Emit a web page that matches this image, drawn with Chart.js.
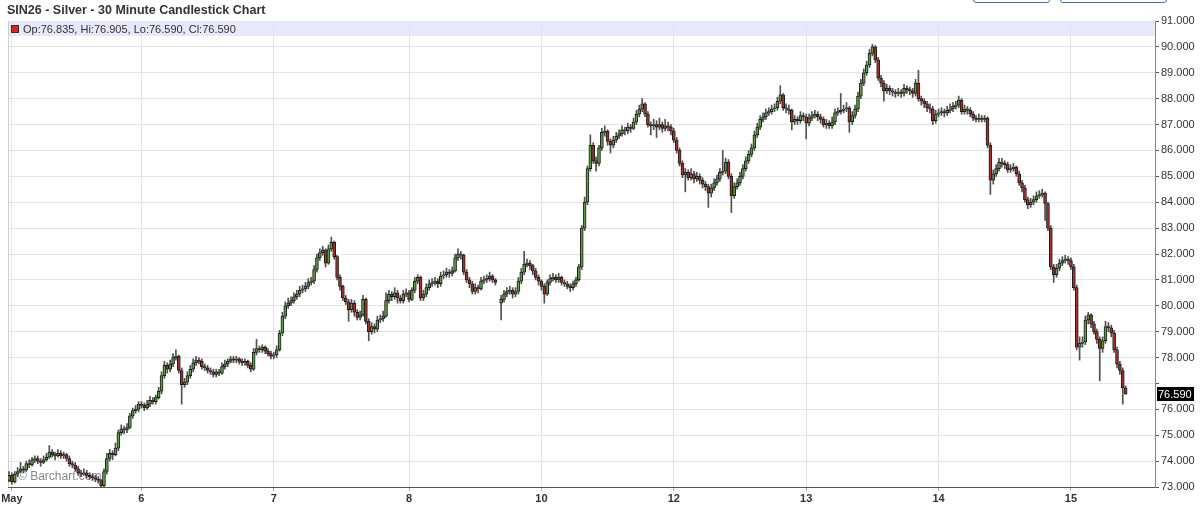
<!DOCTYPE html>
<html>
<head>
<meta charset="utf-8">
<title>SIN26 - Silver - 30 Minute Candlestick Chart</title>
<script src="https://cdn.jsdelivr.net/npm/chart.js@4.4.1/dist/chart.umd.min.js"></script>
<style>
  body { margin: 0; background: #fff; }
  #wrap { position: relative; width: 1200px; height: 513px; overflow: hidden; }
  .btn { position: absolute; top: -20px; height: 23px; border: 1px solid #4d6d94; border-radius: 3px; box-sizing: border-box; }
</style>
</head>
<body>
<div id="wrap">
  <canvas id="myChart" width="1200" height="513"></canvas>
  <div class="btn" style="left:973px;width:77px"></div>
  <div class="btn" style="left:1060px;width:107px"></div>
</div>
<script>
const chartTitle = 'SIN26 - Silver - 30 Minute Candlestick Chart';

// x axis: day labels and the bar index where each one sits
const dayLabels = ['May', '6', '7', '8', '10', '12', '13', '14', '15'];
const dayTicks = [1, 46, 92, 139, 185, 231, 277, 323, 369];

const priceMin = 73;
const priceMax = 91;

// 30 minute bars, one entry per bar (null = no bar)
const opens = [
  // May 5
  73.25, 73.45, 73.2, 73.5, 73.6, 73.7, 73.65, 73.9, 73.85, 74.05, 74.1, 74.0, 73.95, 74.05, 74.15, 74.35, 74.25, 74.2, 74.3, 74.2, 74.25, 74.1, 73.9, 73.85, 73.7, 73.55, 73.5, 73.55, 73.45, 73.4, 73.35, 73.3, 73.25, 73.05, 73.6, 74.1, 74.3, 74.25, 74.5, 75.1, 75.25, 75.2, 75.3, 75.75, 75.95, 76.0, 76.2,
  // 6
  76.15, 76.05, 76.2, 76.35, 76.3, 76.45, 76.7, 77.3, 77.7, 77.55, 77.75, 78.0, 78.05, 77.5, 76.95, 77.05, 77.3, 77.55, 77.8, 77.9, 77.85, 77.65, 77.6, 77.5, 77.45, 77.35, 77.45, 77.4, 77.65, 77.75, 77.85, 77.95, 77.9, 77.95, 77.85, 77.8, 77.85, 77.7, 77.55, 78.2, 78.35, 78.3, 78.4, 78.25, 78.15, 78.05,
  // 7
  78.1, 78.3, 78.95, 79.6, 80.0, 80.1, 80.2, 80.35, 80.45, 80.6, 80.65, 80.75, 80.9, 80.95, 81.4, 81.85, 82.05, 82.15, 81.65, 82.2, 82.45, 81.9, 81.1, 80.75, 80.3, 80.15, 79.85, 80.1, 79.75, 79.55, 79.65, 80.25, 79.4, 79.0, 79.2, 79.1, 79.45, 79.5, 79.6, 80.2, 80.45, 80.35, 80.5, 80.3, 80.2, 80.45,
  // 8
  80.5, 80.25, 80.6, 80.95, 81.1, 80.3, 80.45, 80.7, 80.85, 80.9, 80.95, 80.85, 81.15, 81.2, 81.3, 81.25, 81.35, 81.85, 82.0, 81.95, 81.3, 81.0, 80.85, 80.55, 80.7, 80.65, 80.95, 81.0, 81.05, 81.15, 81.0, null, 80.1, 80.25, 80.45, 80.55, 80.6, 80.45, 80.55, 80.95, 81.3, 81.6, 81.65, 81.55, 81.35, 81.1,
  // 10
  80.95, 80.75, 80.45, 80.9, 81.05, 81.1, 81.0, 81.1, 80.9, 80.85, 80.75, 80.7, 80.85, 81.0, 81.5, 83.0, 84.0, 85.3, 86.2, 85.6, 85.5, 86.1, 86.7, 86.75, 86.35, 86.2, 86.4, 86.55, 86.65, 86.8, 86.75, 86.9, 86.85, 87.1, 87.4, 87.6, 87.8, 87.4, 87.0, 86.95, 87.0, 86.9, 87.0, 86.85, 86.95, 86.9,
  // 12
  86.75, 86.4, 86.0, 85.5, 85.05, 85.15, 84.95, 85.1, 84.9, 85.0, 84.85, 84.7, 84.6, 84.35, 84.55, 84.75, 84.9, 85.15, 85.2, 85.55, 85.0, 84.25, 84.6, 84.75, 85.0, 85.3, 85.6, 85.85, 86.1, 86.6, 86.9, 87.2, 87.3, 87.45, 87.5, 87.6, 87.65, 87.9, 88.15, 87.65, 87.6, 87.55, 87.1, 87.2, 87.15, 87.35,
  // 13
  87.3, 87.05, 87.25, 87.35, 87.4, 87.3, 87.2, 87.0, 87.05, 86.95, 87.1, 87.45, 87.5, 87.55, 87.6, 87.65, 87.1, 87.35, 87.6, 88.1, 88.6, 89.0, 89.3, 89.75, 90.0, 89.5, 88.8, 88.6, 88.3, 88.4, 88.3, 88.25, 88.2, 88.25, 88.2, 88.4, 88.35, 88.3, 88.2, 88.6, 88.0, 87.9, 87.8, 87.65, 87.6, 87.15,
  // 14
  87.4, 87.45, 87.5, 87.45, 87.55, 87.6, 87.7, 87.75, 87.95, 87.5, 87.6, 87.55, 87.4, 87.25, 87.2, 87.25, 87.2, 87.25, 86.2, 84.85, 85.1, 85.3, 85.55, 85.5, 85.45, 85.25, 85.3, 85.35, 85.1, 84.75, 84.55, 84.1, 83.9, 84.0, 84.1, 84.25, 84.3, 84.35, 83.95, 83.0, 81.5, 81.2, 81.45, 81.65, 81.75, 81.8,
  // 15
  81.75, 81.5, 80.7, 78.4, 78.55, 78.6, 79.45, 79.65, 79.3, 79.0, 78.7, 78.35, 78.65, 79.2, 79.15, 78.95, 78.3, 77.75, 77.5, 76.835
];

const highs = [
  73.6, 73.55, 73.6, 73.75, 73.95, 73.8, 74.0, 74.05, 74.15, 74.2, 74.2, 74.1, 74.2, 74.3, 74.6, 74.45, 74.35, 74.45, 74.4, 74.35, 74.3, 74.2, 74.0, 73.95, 73.8, 73.65, 73.7, 73.65, 73.55, 73.5, 73.45, 73.4, 73.3, 73.7, 74.3, 74.45, 74.4, 74.7, 75.2, 75.4, 75.35, 75.45, 75.85, 76.05, 76.15, 76.3, 76.3,
  76.25, 76.35, 76.5, 76.45, 76.55, 76.85, 77.45, 77.85, 77.8, 77.9, 78.15, 78.3, 78.1, 77.6, 77.2, 77.45, 77.7, 77.95, 78.05, 78.0, 77.95, 77.75, 77.7, 77.6, 77.55, 77.55, 77.55, 77.8, 77.9, 77.95, 78.05, 78.05, 78.05, 78.0, 77.95, 77.95, 77.9, 77.8, 78.35, 78.7, 78.45, 78.5, 78.45, 78.35, 78.25, 78.2,
  78.45, 79.05, 79.75, 80.15, 80.3, 80.35, 80.5, 80.6, 80.75, 80.8, 80.9, 81.05, 81.1, 81.55, 82.0, 82.2, 82.3, 82.2, 82.35, 82.65, 82.5, 81.95, 81.2, 80.8, 80.4, 80.25, 80.25, 80.2, 79.85, 79.8, 80.4, 80.3, 79.5, 79.35, 79.3, 79.6, 79.65, 79.8, 80.5, 80.6, 80.55, 80.7, 80.6, 80.4, 80.6, 80.65,
  80.6, 80.7, 81.1, 81.2, 81.15, 80.6, 80.85, 81.0, 81.05, 81.1, 81.05, 81.3, 81.35, 81.45, 81.4, 81.5, 82.0, 82.2, 82.1, 82.0, 81.4, 81.1, 80.95, 80.85, 80.8, 81.1, 81.15, 81.2, 81.3, 81.2, 81.05, null, 80.4, 80.6, 80.7, 80.75, 80.7, 80.7, 81.1, 81.45, 82.1, 81.8, 81.75, 81.6, 81.45, 81.2,
  81.0, 80.85, 81.0, 81.2, 81.25, 81.2, 81.25, 81.15, 81.0, 80.95, 80.85, 80.95, 81.1, 81.6, 83.1, 84.2, 85.4, 86.6, 86.3, 85.75, 86.2, 86.85, 86.95, 86.8, 86.45, 86.55, 86.7, 86.8, 86.95, 86.9, 87.05, 87.0, 87.25, 87.55, 87.75, 88.0, 87.85, 87.5, 87.1, 87.2, 87.15, 87.25, 87.1, 87.2, 87.1, 87.0,
  86.85, 86.5, 86.1, 85.6, 85.3, 85.25, 85.3, 85.2, 85.15, 85.1, 84.95, 84.8, 84.7, 84.7, 84.9, 85.05, 85.3, 86.0, 85.7, 85.65, 85.1, 84.75, 84.9, 85.15, 85.45, 85.75, 86.0, 86.25, 86.75, 87.05, 87.35, 87.45, 87.6, 87.65, 87.75, 87.8, 88.05, 88.5, 88.2, 87.8, 87.75, 87.6, 87.35, 87.3, 87.5, 87.45,
  87.4, 87.4, 87.5, 87.55, 87.5, 87.4, 87.3, 87.2, 87.15, 87.3, 87.6, 87.65, 88.2, 87.75, 87.85, 87.7, 87.5, 87.75, 88.25, 88.75, 89.15, 89.45, 89.9, 90.1, 90.05, 89.6, 88.9, 88.7, 88.55, 88.5, 88.4, 88.35, 88.4, 88.35, 88.55, 88.5, 88.45, 88.4, 88.75, 89.1, 88.1, 88.0, 87.9, 87.8, 87.7, 87.55,
  87.6, 87.65, 87.6, 87.7, 87.8, 87.85, 87.9, 88.1, 88.0, 87.75, 87.7, 87.65, 87.5, 87.35, 87.4, 87.35, 87.35, 87.3, 86.3, 85.25, 85.45, 85.7, 85.7, 85.6, 85.55, 85.45, 85.5, 85.4, 85.2, 84.85, 84.65, 84.2, 84.15, 84.25, 84.4, 84.45, 84.5, 84.4, 84.0, 83.1, 81.6, 81.6, 81.8, 81.9, 81.95, 81.9,
  81.85, 81.6, 80.8, 78.8, 78.8, 79.6, 79.75, 79.7, 79.4, 79.1, 78.8, 78.8, 79.4, 79.35, 79.25, 79.05, 78.4, 77.85, 77.6, 76.905
];

const lows = [
  73.2, 73.1, 73.15, 73.4, 73.55, 73.55, 73.6, 73.75, 73.8, 73.95, 73.9, 73.8, 73.9, 74.0, 74.1, 74.15, 74.05, 74.15, 74.1, 74.1, 74.0, 73.8, 73.75, 73.6, 73.45, 73.4, 73.45, 73.35, 73.3, 73.25, 73.2, 73.15, 73.0, 73.0, 73.5, 74.0, 74.05, 74.2, 74.4, 75.0, 75.05, 75.1, 75.25, 75.65, 75.85, 75.9, 76.05,
  75.95, 76.0, 76.1, 76.2, 76.2, 76.4, 76.6, 77.2, 77.4, 77.45, 77.65, 77.9, 77.4, 76.2, 76.85, 76.95, 77.2, 77.45, 77.7, 77.75, 77.55, 77.5, 77.4, 77.35, 77.25, 77.25, 77.3, 77.35, 77.55, 77.65, 77.8, 77.8, 77.8, 77.75, 77.7, 77.7, 77.6, 77.45, 77.5, 78.1, 78.2, 78.2, 78.15, 78.05, 77.95, 77.95,
  78.0, 78.25, 78.85, 79.5, 79.9, 80.0, 80.1, 80.25, 80.35, 80.5, 80.55, 80.65, 80.8, 80.85, 81.3, 81.75, 81.95, 81.5, 81.6, 82.1, 81.8, 81.0, 80.6, 80.2, 80.05, 79.4, 79.75, 79.6, 79.45, 79.45, 79.6, 79.3, 78.65, 78.9, 78.95, 79.0, 79.35, 79.4, 79.55, 80.1, 80.2, 80.25, 80.1, 80.1, 80.1, 80.35,
  80.15, 80.2, 80.5, 80.85, 80.2, 80.2, 80.35, 80.6, 80.75, 80.8, 80.7, 80.75, 81.05, 81.1, 81.1, 81.15, 81.3, 81.75, 81.8, 81.2, 80.9, 80.7, 80.45, 80.45, 80.5, 80.6, 80.85, 80.9, 80.95, 80.9, 80.8, null, 79.45, 80.15, 80.35, 80.45, 80.3, 80.35, 80.45, 80.85, 81.2, 81.5, 81.4, 81.2, 81.0, 80.8,
  80.6, 80.1, 80.4, 80.8, 80.95, 80.9, 80.9, 80.8, 80.75, 80.65, 80.55, 80.6, 80.75, 80.95, 81.4, 82.9, 83.9, 85.2, 85.5, 85.2, 85.4, 86.0, 86.55, 86.2, 85.9, 86.1, 86.3, 86.45, 86.55, 86.6, 86.65, 86.7, 86.8, 87.0, 87.3, 87.5, 87.3, 86.9, 86.6, 86.8, 86.5, 86.8, 86.7, 86.75, 86.75, 86.6,
  86.3, 85.9, 85.4, 84.95, 84.4, 84.85, 84.85, 84.75, 84.8, 84.7, 84.55, 84.45, 83.8, 84.2, 84.45, 84.65, 84.8, 85.05, 85.1, 84.9, 83.6, 84.15, 84.5, 84.65, 84.9, 85.2, 85.5, 85.75, 86.0, 86.5, 86.8, 87.1, 87.2, 87.35, 87.4, 87.5, 87.55, 87.8, 87.55, 87.45, 87.4, 86.8, 87.0, 87.0, 87.05, 87.15,
  86.45, 86.95, 87.15, 87.25, 87.15, 87.05, 86.9, 86.85, 86.85, 86.85, 87.0, 87.35, 87.4, 87.45, 87.5, 86.7, 87.0, 87.25, 87.5, 88.0, 88.5, 88.9, 89.2, 89.65, 89.4, 88.7, 88.45, 87.9, 88.2, 88.15, 88.1, 88.05, 88.1, 88.05, 88.1, 88.2, 88.15, 88.05, 88.1, 87.9, 87.75, 87.65, 87.5, 87.45, 87.0, 87.05,
  87.3, 87.35, 87.3, 87.35, 87.45, 87.5, 87.6, 87.65, 87.4, 87.4, 87.4, 87.3, 87.15, 87.1, 87.1, 87.1, 87.1, 86.1, 84.3, 84.7, 85.0, 85.2, 85.35, 85.3, 85.15, 85.15, 85.2, 85.0, 84.65, 84.4, 84.0, 83.75, 83.8, 83.9, 84.0, 84.15, 84.2, 83.3, 82.9, 81.4, 80.9, 81.1, 81.35, 81.55, 81.65, 81.6,
  81.4, 80.6, 78.3, 77.9, 78.4, 78.5, 79.3, 79.15, 78.9, 78.55, 77.1, 78.2, 78.55, 79.0, 78.8, 78.2, 77.6, 77.35, 76.2, 76.59
];

const closes = [
  73.45, 73.2, 73.5, 73.6, 73.7, 73.65, 73.9, 73.85, 74.05, 74.1, 74.0, 73.95, 74.05, 74.15, 74.35, 74.25, 74.2, 74.3, 74.2, 74.25, 74.1, 73.9, 73.85, 73.7, 73.55, 73.5, 73.55, 73.45, 73.4, 73.35, 73.3, 73.25, 73.05, 73.6, 74.1, 74.3, 74.25, 74.5, 75.1, 75.25, 75.2, 75.3, 75.75, 75.95, 76.0, 76.2, 76.15,
  76.05, 76.2, 76.35, 76.3, 76.45, 76.7, 77.3, 77.7, 77.55, 77.75, 78.0, 78.05, 77.5, 76.95, 77.05, 77.3, 77.55, 77.8, 77.9, 77.85, 77.65, 77.6, 77.5, 77.45, 77.35, 77.45, 77.4, 77.65, 77.75, 77.85, 77.95, 77.9, 77.95, 77.85, 77.8, 77.85, 77.7, 77.55, 78.2, 78.35, 78.3, 78.4, 78.25, 78.15, 78.05, 78.1,
  78.3, 78.95, 79.6, 80.0, 80.1, 80.2, 80.35, 80.45, 80.6, 80.65, 80.75, 80.9, 80.95, 81.4, 81.85, 82.05, 82.15, 81.65, 82.2, 82.45, 81.9, 81.1, 80.75, 80.3, 80.15, 79.85, 80.1, 79.75, 79.55, 79.65, 80.25, 79.4, 79.0, 79.2, 79.1, 79.45, 79.5, 79.6, 80.2, 80.45, 80.35, 80.5, 80.3, 80.2, 80.45, 80.5,
  80.25, 80.6, 80.95, 81.1, 80.3, 80.45, 80.7, 80.85, 80.9, 80.95, 80.85, 81.15, 81.2, 81.3, 81.25, 81.35, 81.85, 82.0, 81.95, 81.3, 81.0, 80.85, 80.55, 80.7, 80.65, 80.95, 81.0, 81.05, 81.15, 81.0, 80.9, null, 80.25, 80.45, 80.55, 80.6, 80.45, 80.55, 80.95, 81.3, 81.6, 81.65, 81.55, 81.35, 81.1, 80.95,
  80.75, 80.45, 80.9, 81.05, 81.1, 81.0, 81.1, 80.9, 80.85, 80.75, 80.7, 80.85, 81.0, 81.5, 83.0, 84.0, 85.3, 86.2, 85.6, 85.5, 86.1, 86.7, 86.75, 86.35, 86.2, 86.4, 86.55, 86.65, 86.8, 86.75, 86.9, 86.85, 87.1, 87.4, 87.6, 87.8, 87.4, 87.0, 86.95, 87.0, 86.9, 87.0, 86.85, 86.95, 86.9, 86.75,
  86.4, 86.0, 85.5, 85.05, 85.15, 84.95, 85.1, 84.9, 85.0, 84.85, 84.7, 84.6, 84.35, 84.55, 84.75, 84.9, 85.15, 85.2, 85.55, 85.0, 84.25, 84.6, 84.75, 85.0, 85.3, 85.6, 85.85, 86.1, 86.6, 86.9, 87.2, 87.3, 87.45, 87.5, 87.6, 87.65, 87.9, 88.15, 87.65, 87.6, 87.55, 87.1, 87.2, 87.15, 87.35, 87.3,
  87.05, 87.25, 87.35, 87.4, 87.3, 87.2, 87.0, 87.05, 86.95, 87.1, 87.45, 87.5, 87.55, 87.6, 87.65, 87.1, 87.35, 87.6, 88.1, 88.6, 89.0, 89.3, 89.75, 90.0, 89.5, 88.8, 88.6, 88.3, 88.4, 88.3, 88.25, 88.2, 88.25, 88.2, 88.4, 88.35, 88.3, 88.2, 88.6, 88.0, 87.9, 87.8, 87.65, 87.6, 87.15, 87.4,
  87.45, 87.5, 87.45, 87.55, 87.6, 87.7, 87.75, 87.95, 87.5, 87.6, 87.55, 87.4, 87.25, 87.2, 87.25, 87.2, 87.25, 86.2, 84.85, 85.1, 85.3, 85.55, 85.5, 85.45, 85.25, 85.3, 85.35, 85.1, 84.75, 84.55, 84.1, 83.9, 84.0, 84.1, 84.25, 84.3, 84.35, 83.95, 83.0, 81.5, 81.2, 81.45, 81.65, 81.75, 81.8, 81.75,
  81.5, 80.7, 78.4, 78.55, 78.6, 79.45, 79.65, 79.3, 79.0, 78.7, 78.35, 78.65, 79.2, 79.15, 78.95, 78.3, 77.75, 77.5, 76.835, 76.59
];

const upColor = '#58a03c';
const downColor = '#a8302a';
const fontFamily = '"Liberation Sans", Arial, sans-serif';

let myChart;

const last = closes.length - 1;
const lastClose = closes[last];

// candle bodies and wicks as floating bars
const bodies = [];
const wicks = [];
const bodyColors = [];
for (let i = 0; i < closes.length; i++) {
    if (closes[i] === null) continue;
    bodies.push({ x: i, y: [opens[i], closes[i]] });
    wicks.push({ x: i, y: [lows[i], highs[i]] });
    bodyColors.push(closes[i] >= opens[i] ? upColor : downColor);
}

// title, info band, watermark and last price tag
const overlay = {
    id: 'overlay',
    beforeDatasetsDraw(chart) {
        const { ctx, chartArea: a } = chart;
        ctx.save();
        ctx.fillStyle = 'rgba(222,222,250,0.7)';
        ctx.fillRect(a.left, a.top + 1, a.right - a.left, 14);
        ctx.strokeStyle = '#cfcfcf';
        ctx.lineWidth = 1;
        ctx.beginPath();
        ctx.moveTo(a.left + 0.5, a.top);
        ctx.lineTo(a.left + 0.5, a.bottom);
        ctx.stroke();
        ctx.font = '12px ' + fontFamily;
        ctx.fillStyle = 'rgba(105,105,105,0.8)';
        ctx.textBaseline = 'alphabetic';
        ctx.fillText('\u00A9 Barchart.com', a.left + 10, a.bottom - 7);
        ctx.restore();
    },
    afterDraw(chart) {
        const { ctx, chartArea: a } = chart;
        const y = chart.scales.y;
        ctx.save();
        ctx.font = 'bold 12.5px ' + fontFamily;
        ctx.fillStyle = '#333';
        ctx.textBaseline = 'alphabetic';
        ctx.fillText(chartTitle, 7, 14);

        // info band text
        ctx.fillStyle = '#d8281e';
        ctx.fillRect(a.left + 3, a.top + 4, 8, 8);
        ctx.strokeStyle = '#333';
        ctx.strokeRect(a.left + 3.5, a.top + 4.5, 7, 7);
        ctx.font = '11px ' + fontFamily;
        ctx.fillStyle = '#333';
        const info = 'Op:' + opens[last].toFixed(3) + ', Hi:' + highs[last].toFixed(3) +
            ', Lo:' + lows[last].toFixed(3) + ', Cl:' + lastClose.toFixed(3);
        ctx.fillText(info, a.left + 15, a.top + 12);

        // last price tag on the axis
        const py = Math.round(y.getPixelForValue(lastClose));
        ctx.fillStyle = '#000';
        ctx.fillRect(a.right + 2, py - 7, 37, 14);
        ctx.fillStyle = '#fff';
        ctx.textBaseline = 'middle';
        ctx.fillText(lastClose.toFixed(3), a.right + 3, py + 0.5);
        ctx.restore();
    }
};

const ctx = document.getElementById('myChart');
myChart = new Chart(ctx, {
    type: 'bar',
    data: {
        datasets: [
            {
                label: 'body',
                data: bodies,
                backgroundColor: bodyColors,
                borderColor: '#1c1c1c',
                borderWidth: 1,
                borderSkipped: false,
                barThickness: 3,
                minBarLength: 1,
                grouped: false,
                order: 0
            },
            {
                label: 'wick',
                data: wicks,
                backgroundColor: '#505050',
                borderWidth: 0,
                barThickness: 1,
                grouped: false,
                order: 1
            }
        ]
    },
    options: {
        responsive: false,
        animation: false,
        layout: { padding: { left: 8, top: 21, right: 0, bottom: 0 } },
        plugins: {
            legend: { display: false },
            tooltip: { enabled: false },
            title: { display: false }
        },
        scales: {
            x: {
                type: 'linear',
                min: -0.35,
                max: 398.2,
                offset: false,
                afterBuildTicks: (s) => { s.ticks = dayTicks.map(v => ({ value: v })); },
                afterFit: (s) => { s.height = 26; s.paddingLeft = 0; s.paddingRight = 0; },
                ticks: {
                    autoSkip: false,
                    maxRotation: 0,
                    padding: 1,
                    color: '#333',
                    font: { family: fontFamily, size: 11, weight: 'bold' },
                    callback: (v, i) => dayLabels[i]
                },
                grid: { offset: false, color: '#e4e4e4', tickLength: 4, tickColor: '#aaa' },
                border: { color: '#555' }
            },
            y: {
                position: 'right',
                min: priceMin,
                max: priceMax,
                afterFit: (s) => { s.width = 45; s.paddingTop = 0; s.paddingBottom = 0; },
                ticks: {
                    stepSize: 1,
                    padding: 2,
                    color: '#333',
                    font: { family: fontFamily, size: 11 },
                    // the label under the price tag is hidden
                    callback: (v) => Math.abs(v - lastClose) < 0.5 ? '' : v.toFixed(3)
                },
                grid: { color: '#e4e4e4', tickLength: 4, tickColor: '#555' },
                border: { color: '#888' }
            }
        }
    },
    plugins: [overlay]
});
</script>
</body>
</html>
